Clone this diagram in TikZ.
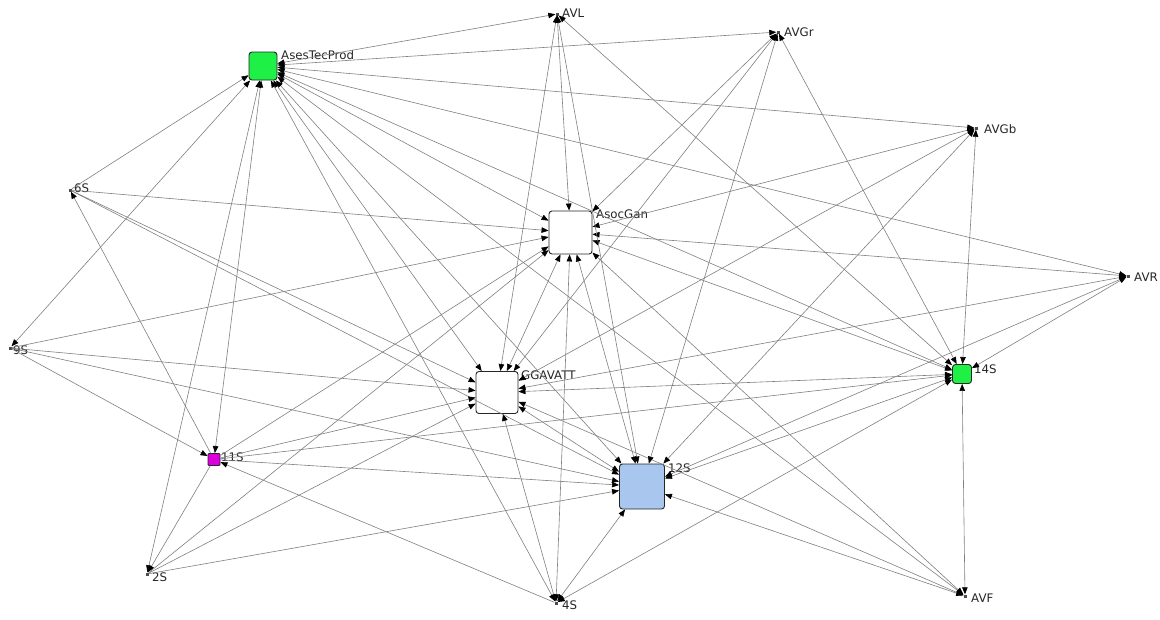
\documentclass[tikz,border=0pt]{standalone}
\usepackage{fontspec}
\setmainfont{DejaVu Sans}
\usetikzlibrary{arrows.meta}
\begin{document}
\begin{tikzpicture}[x=1pt,y=-1pt,
  hub/.style={draw=black!85, line width=0.9pt, rounded corners=3pt,
    minimum size=#1, inner sep=0pt},
  dot/.style={fill=black!70, minimum size=3pt, inner sep=0pt},
  lbl/.style={font=\fontsize{11.8}{13}\selectfont, text=black!85,
    anchor=west, inner sep=0pt},
  link/.style={draw=black!50, line width=0.6pt},
  both/.style={link, {Triangle[length=7pt,width=5.5pt,color=black]}-{Triangle[length=7pt,width=5.5pt,color=black]}},
  fwd/.style={link, -{Triangle[length=7pt,width=5.5pt,color=black]}}
]
\useasboundingbox (0,0) rectangle (1160,619);
\fill[white] (0,0) rectangle (1160,619);

% actors
\node[hub=28pt, fill={rgb,255:red,30;green,240;blue,70}] (ATP) at (263,66) {};
\node[hub=43pt, fill=white] (AG) at (570.5,232.5) {};
\node[hub=42pt, fill=white] (GG) at (497,392.5) {};
\node[hub=45pt, fill={rgb,255:red,168;green,198;blue,238}] (S12) at (642,486.5) {};
\node[hub=19pt, fill={rgb,255:red,30;green,240;blue,70}] (S14) at (962,374) {};
\node[hub=12pt, fill={rgb,255:red,220;green,0;blue,220}, rounded corners=1pt] (S11) at (214,459.5) {};
\node[dot] (AVL) at (557,14) {};
\node[dot] (AVGr) at (778,32) {};
\node[dot] (AVGb) at (976,128) {};
\node[dot] (AVR) at (1128,276) {};
\node[dot] (AVF) at (965,596) {};
\node[dot] (S6) at (70,190) {};
\node[dot] (S9) at (10,348) {};
\node[dot] (S2) at (147,574) {};
\node[dot] (S4) at (556,603) {};

% labels
\node[lbl] (lATP) at (281,55) {AsesTecProd};
\node[lbl] (lAG) at (596,214) {AsocGan};
\node[lbl] (lGG) at (521,375) {GGAVATT};
\node[lbl] (lS12) at (668,468) {12S};
\node[lbl] (lS14) at (974,369) {14S};
\node[lbl] (lS11) at (221,457) {11S};
\node[lbl] (lAVL) at (562,13) {AVL};
\node[lbl] (lAVGr) at (784,32) {AVGr};
\node[lbl] (lAVGb) at (984,129) {AVGb};
\node[lbl] (lAVR) at (1134,277) {AVR};
\node[lbl] (lAVF) at (971,598) {AVF};
\node[lbl] (lS6) at (74,188) {6S};
\node[lbl] (lS9) at (13,350) {9S};
\node[lbl] (lS2) at (152,577) {2S};
\node[lbl] (lS4) at (562,605) {4S};

% ties between the main actors
\foreach \a/\b in {ATP/AG, ATP/GG, ATP/S12, ATP/S14, AG/GG, AG/S12, AG/S14,
                   GG/S12, GG/S14, S12/S14}
  \draw[both] (\a) -- (\b);

% ties of the smaller actors
\foreach \a/\b in {ATP/AVL, ATP/AVGr, ATP/AVGb, ATP/AVR, ATP/AVF, ATP/S4, ATP/S9,
                   AG/AVL, AG/AVGr, AG/AVGb, AG/AVR, AG/AVF, AG/S4,
                   GG/AVL, GG/AVGr, GG/AVGb, GG/AVR, GG/AVF, GG/S4,
                   S12/AVL, S12/AVGr, S12/AVGb, S12/AVR, S12/AVF, S12/S4,
                   S14/AVL, S14/AVGr, S14/AVGb, S14/AVR, S14/AVF, S14/S4,
                   ATP/S11, ATP/S2}
  \draw[both] (\a) -- (\b);

\foreach \a/\b in {S6/ATP, S6/AG, S6/GG, S6/S12, S11/S6,
                   S9/AG, S9/GG, S9/S12, S9/S11,
                   S11/AG, S11/GG, S11/S12, S11/S14, S4/S11, S11/S2,
                   S2/AG, S2/GG, S2/S12}
  \draw[fwd] (\a) -- (\b);
\end{tikzpicture}
\end{document}
